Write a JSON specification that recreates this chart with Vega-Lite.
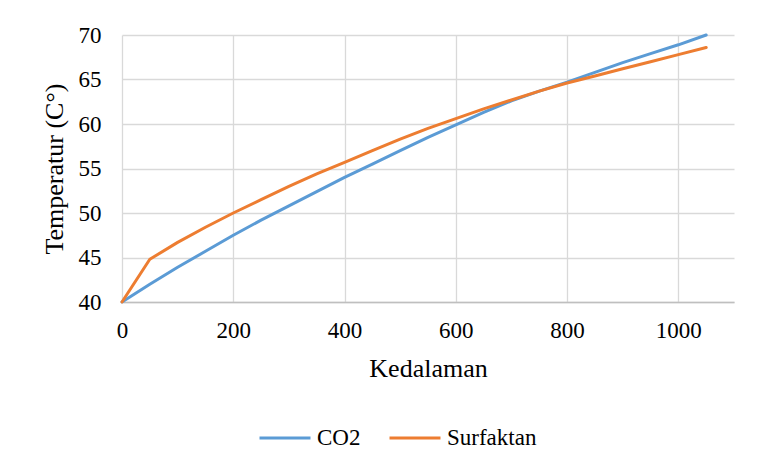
{
  "$schema": "https://vega.github.io/schema/vega-lite/v6.json",
  "autosize": "none",
  "padding": {"left": 122, "top": 35, "right": 44, "bottom": 166},
  "width": 612,
  "height": 267,
  "background": "white",
  "config": {
    "view": {"stroke": null},
    "font": "Liberation Serif"
  },
  "data": {
    "values": [
      {"k": 0, "t": 40.0, "s": "CO2"},
      {"k": 50, "t": 42.0, "s": "CO2"},
      {"k": 100, "t": 43.9, "s": "CO2"},
      {"k": 150, "t": 45.7, "s": "CO2"},
      {"k": 200, "t": 47.5, "s": "CO2"},
      {"k": 250, "t": 49.2, "s": "CO2"},
      {"k": 300, "t": 50.8, "s": "CO2"},
      {"k": 350, "t": 52.4, "s": "CO2"},
      {"k": 400, "t": 54.0, "s": "CO2"},
      {"k": 450, "t": 55.5, "s": "CO2"},
      {"k": 500, "t": 57.0, "s": "CO2"},
      {"k": 550, "t": 58.5, "s": "CO2"},
      {"k": 600, "t": 59.9, "s": "CO2"},
      {"k": 650, "t": 61.3, "s": "CO2"},
      {"k": 700, "t": 62.6, "s": "CO2"},
      {"k": 750, "t": 63.7, "s": "CO2"},
      {"k": 800, "t": 64.7, "s": "CO2"},
      {"k": 850, "t": 65.8, "s": "CO2"},
      {"k": 900, "t": 66.9, "s": "CO2"},
      {"k": 950, "t": 67.9, "s": "CO2"},
      {"k": 1000, "t": 68.9, "s": "CO2"},
      {"k": 1050, "t": 70.0, "s": "CO2"},
      {"k": 0, "t": 40.0, "s": "Surfaktan"},
      {"k": 50, "t": 44.8, "s": "Surfaktan"},
      {"k": 100, "t": 46.7, "s": "Surfaktan"},
      {"k": 150, "t": 48.4, "s": "Surfaktan"},
      {"k": 200, "t": 50.0, "s": "Surfaktan"},
      {"k": 250, "t": 51.5, "s": "Surfaktan"},
      {"k": 300, "t": 53.0, "s": "Surfaktan"},
      {"k": 350, "t": 54.4, "s": "Surfaktan"},
      {"k": 400, "t": 55.7, "s": "Surfaktan"},
      {"k": 450, "t": 57.0, "s": "Surfaktan"},
      {"k": 500, "t": 58.3, "s": "Surfaktan"},
      {"k": 550, "t": 59.5, "s": "Surfaktan"},
      {"k": 600, "t": 60.6, "s": "Surfaktan"},
      {"k": 650, "t": 61.7, "s": "Surfaktan"},
      {"k": 700, "t": 62.7, "s": "Surfaktan"},
      {"k": 750, "t": 63.7, "s": "Surfaktan"},
      {"k": 800, "t": 64.6, "s": "Surfaktan"},
      {"k": 850, "t": 65.4, "s": "Surfaktan"},
      {"k": 900, "t": 66.2, "s": "Surfaktan"},
      {"k": 950, "t": 67.0, "s": "Surfaktan"},
      {"k": 1000, "t": 67.8, "s": "Surfaktan"},
      {"k": 1050, "t": 68.6, "s": "Surfaktan"}
    ]
  },
  "mark": {"type": "line", "strokeWidth": 3, "interpolate": "linear", "strokeCap": "round", "strokeJoin": "round"},
  "encoding": {
    "x": {
      "field": "k", "type": "quantitative",
      "scale": {"domain": [0, 1100], "nice": false},
      "axis": {
        "title": "Kedalaman", "values": [0, 200, 400, 600, 800, 1000], "format": "d",
        "ticks": false, "domainColor": "#BFBFBF", "domainWidth": 1.5,
        "gridColor": "#D9D9D9", "gridWidth": 1.3, "labelFlush": false,
        "labelFont": "Liberation Serif", "labelFontSize": 23, "labelColor": "#000000",
        "labelPadding": 17,
        "titleFont": "Liberation Serif", "titleFontSize": 26, "titleFontWeight": "normal",
        "titleColor": "#000000", "titlePadding": 13
      }
    },
    "y": {
      "field": "t", "type": "quantitative",
      "scale": {"domain": [40, 70], "nice": false, "zero": false},
      "axis": {
        "title": "Temperatur (C°)", "values": [40, 45, 50, 55, 60, 65, 70],
        "ticks": false, "domain": false, "labelFlush": false,
        "gridColor": "#D9D9D9", "gridWidth": 1.3,
        "labelFont": "Liberation Serif", "labelFontSize": 23, "labelColor": "#000000",
        "labelPadding": 21,
        "titleFont": "Liberation Serif", "titleFontSize": 26, "titleFontWeight": "normal",
        "titleColor": "#000000", "titlePadding": 11
      }
    },
    "color": {
      "field": "s", "type": "nominal",
      "scale": {"domain": ["CO2", "Surfaktan"], "range": ["#5B9BD5", "#ED7D31"]},
      "legend": {
        "title": null, "orient": "none", "direction": "horizontal",
        "legendX": 136, "legendY": 376,
        "symbolType": "stroke", "symbolSize": 2600, "symbolStrokeWidth": 3,
        "labelFont": "Liberation Serif", "labelFontSize": 23, "labelColor": "#000000",
        "labelOffset": 5, "columnPadding": 22
      }
    }
  }
}
